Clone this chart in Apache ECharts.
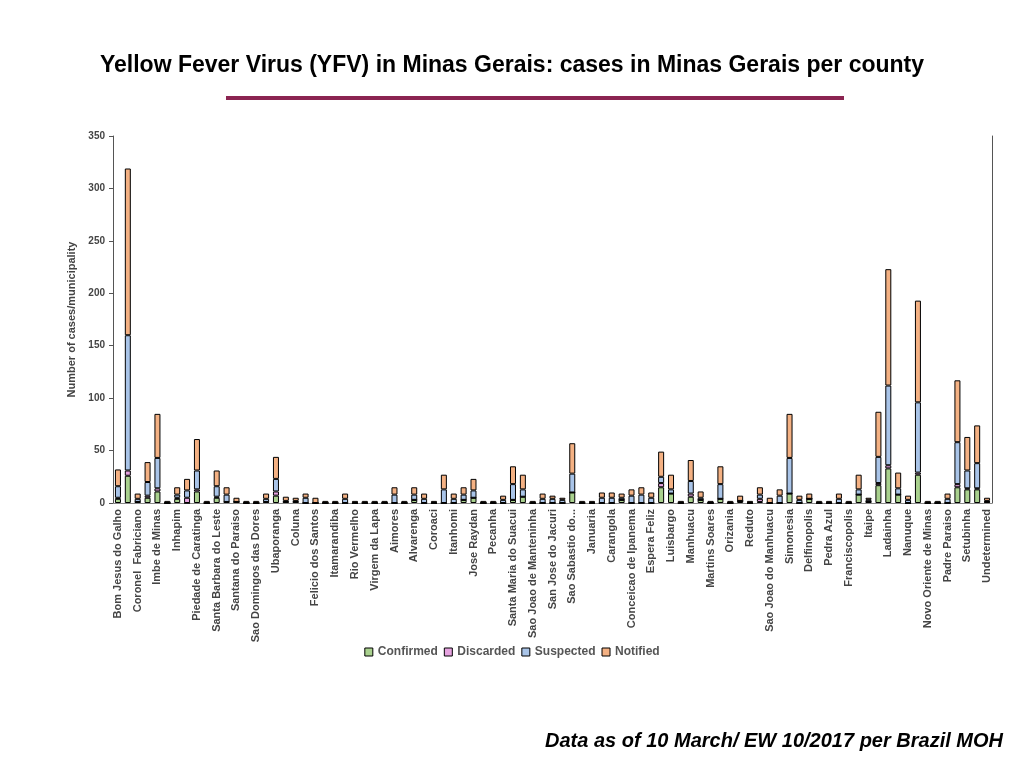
<!DOCTYPE html>
<html>
<head>
<meta charset="utf-8">
<script src="https://cdn.jsdelivr.net/npm/echarts@6/dist/echarts.min.js"></script>
<style>html,body{margin:0;background:#fff}#c{width:1024px;height:768px}</style>
</head>
<body>
<div id="c"></div>
<script>
// labelled counties (every second bar carries a label)
var labelled = ['Bom Jesus do Galho', 'Coronel  Fabriciano', 'Imbe de Minas', 'Inhapim', 'Piedade de Caratinga',
  'Santa Barbara do Leste', 'Santana do Paraiso', 'Sao Domingos das Dores', 'Ubaporanga', 'Coluna',
  'Felicio dos Santos', 'Itamarandiba', 'Rio Vermelho', 'Virgem da Lapa', 'Aimores', 'Alvarenga', 'Coroaci',
  'Itanhomi', 'Jose Raydan', 'Pecanha', 'Santa Maria do Suacui', 'Sao Joao de Manteninha', 'San Jose do Jacuri',
  'Sao Sabastio do...', 'Januaria', 'Carangola', 'Conceicao de Ipanema', 'Espera Feliz', 'Luisbargo', 'Manhuacu',
  'Martins Soares', 'Orizania', 'Reduto', 'Sao Joao do Manhuacu', 'Simonesia', 'Delfinopolis', 'Pedra Azul',
  'Franciscopolis', 'Itaipe', 'Ladainha', 'Nanuque', 'Novo Oriente de Minas', 'Padre Paraiso', 'Setubinha',
  'Undetermined'];

var confirmed = [4,26,1,5,11,0,4,0,11,0, 5,1,1,0,0,1,7,1,1,0, 0,0,0,0,0,0,0,0,0,0, 3,0,0,0,0,3,5,0,0,0,
  3,6,0,0,0,0,10,0,0,0, 0,3,0,0,0,15,9,0,6,3, 0,4,0,2,0,1,0,0,9,0, 4,0,0,0,0,8,1,17,33,8,
  0,27,0,0,0,15,13,13,1];
var discarded = [1,5,0,2,3,0,1,5,2,0, 1,0,0,0,0,0,4,0,0,0, 0,0,0,0,0,0,0,0,0,0, 0,0,0,0,0,0,0,0,0,0,
  0,0,0,0,0,0,0,0,0,0, 0,0,0,0,0,4,0,0,3,0, 0,0,0,0,0,3,0,0,0,0, 0,0,0,0,0,0,0,2,3,0,
  0,2,0,0,0,3,1,1,0];
var suspected = [11,129,3,13,29,0,3,7,18,0, 10,7,0,0,0,3,12,1,1,5, 0,0,0,4,0,0,0,0,8,0, 5,4,0,13,4,5,7,0,0,3,
  15,7,0,4,4,3,18,0,0,5, 5,2,7,8,5,6,4,0,12,2, 0,14,0,0,0,4,0,7,34,3, 0,0,0,4,0,5,2,25,76,6,
  3,67,0,0,4,40,17,24,1];
var notified = [16,159,5,19,42,2,7,11,30,2, 15,7,4,2,2,5,21,4,3,4, 5,2,2,5,2,2,2,2,7,2, 7,5,2,14,5,7,11,2,2,4,
  17,14,2,5,3,2,29,2,2,5, 5,4,6,7,5,24,14,2,20,6, 2,17,2,5,2,7,5,6,42,4, 5,2,2,5,2,14,2,43,111,15,
  4,97,2,2,5,59,32,36,3];

var counties = [];
for (var i = 0; i < confirmed.length; i++) {
  counties.push(i % 2 === 0 ? labelled[i / 2] : '\u200b'.repeat(i));
}

function mk(name, data, color) {
  return {
    name: name, type: 'bar', stack: 'all', data: data, barWidth: 6,
    itemStyle: { color: color, borderColor: '#000', borderWidth: 1 }
  };
}

var font = 'Liberation Sans, Arial';
var chart = echarts.init(document.getElementById('c'));
chart.setOption({
  animation: false,
  title: {
    text: 'Yellow Fever Virus (YFV) in Minas Gerais: cases in Minas Gerais per county',
    left: 'center', top: 49,
    textStyle: { fontFamily: font, fontSize: 23, fontWeight: 'bold', color: '#000' }
  },
  graphic: [
    { type: 'rect', shape: { x: 226, y: 96, width: 618, height: 4 }, style: { fill: '#8b2451' } },
    { type: 'text', right: 21, top: 731,
      style: { text: 'Data as of 10 March/ EW 10/2017 per Brazil MOH', fill: '#000',
        font: 'italic bold 20px "Liberation Sans", Arial' } }
  ],
  legend: {
    bottom: 105, left: 'center', itemWidth: 8, itemHeight: 8, icon: 'rect', itemGap: 6,
    textStyle: { fontFamily: font, fontSize: 12, fontWeight: 'bold', color: '#555' },
    itemStyle: { borderColor: '#000', borderWidth: 1 }
  },
  grid: { left: 113, right: 32, top: 136, bottom: 265 },
  xAxis: {
    type: 'category', data: counties,
    axisLine: { lineStyle: { color: '#888' } }, axisTick: { show: false },
    axisLabel: { interval: 0, rotate: 90, fontFamily: font, fontSize: 11,
      fontWeight: 'bold', color: '#444', margin: 6 }
  },
  yAxis: [{
    type: 'value', min: 0, max: 350, interval: 50,
    name: 'Number of cases/municipality', nameLocation: 'middle', nameGap: 32,
    nameTextStyle: { fontFamily: font, fontSize: 11, fontWeight: 'bold', color: '#444' },
    splitLine: { show: false },
    axisLine: { show: true, lineStyle: { color: '#555' } },
    axisTick: { show: true, length: 4, lineStyle: { color: '#555' } },
    axisLabel: { fontFamily: font, fontSize: 10, fontWeight: 'bold', color: '#444' }
  }, {
    type: 'value', min: 0, max: 350, interval: 50, position: 'right',
    splitLine: { show: false }, axisTick: { show: false }, axisLabel: { show: false },
    axisLine: { show: true, lineStyle: { color: '#555' } }
  }],
  series: [
    mk('Confirmed', confirmed, '#a9d18e'),
    mk('Discarded', discarded, '#e6a3e0'),
    mk('Suspected', suspected, '#a9c4e8'),
    mk('Notified', notified, '#f4b183')
  ]
});
</script>
</body>
</html>
